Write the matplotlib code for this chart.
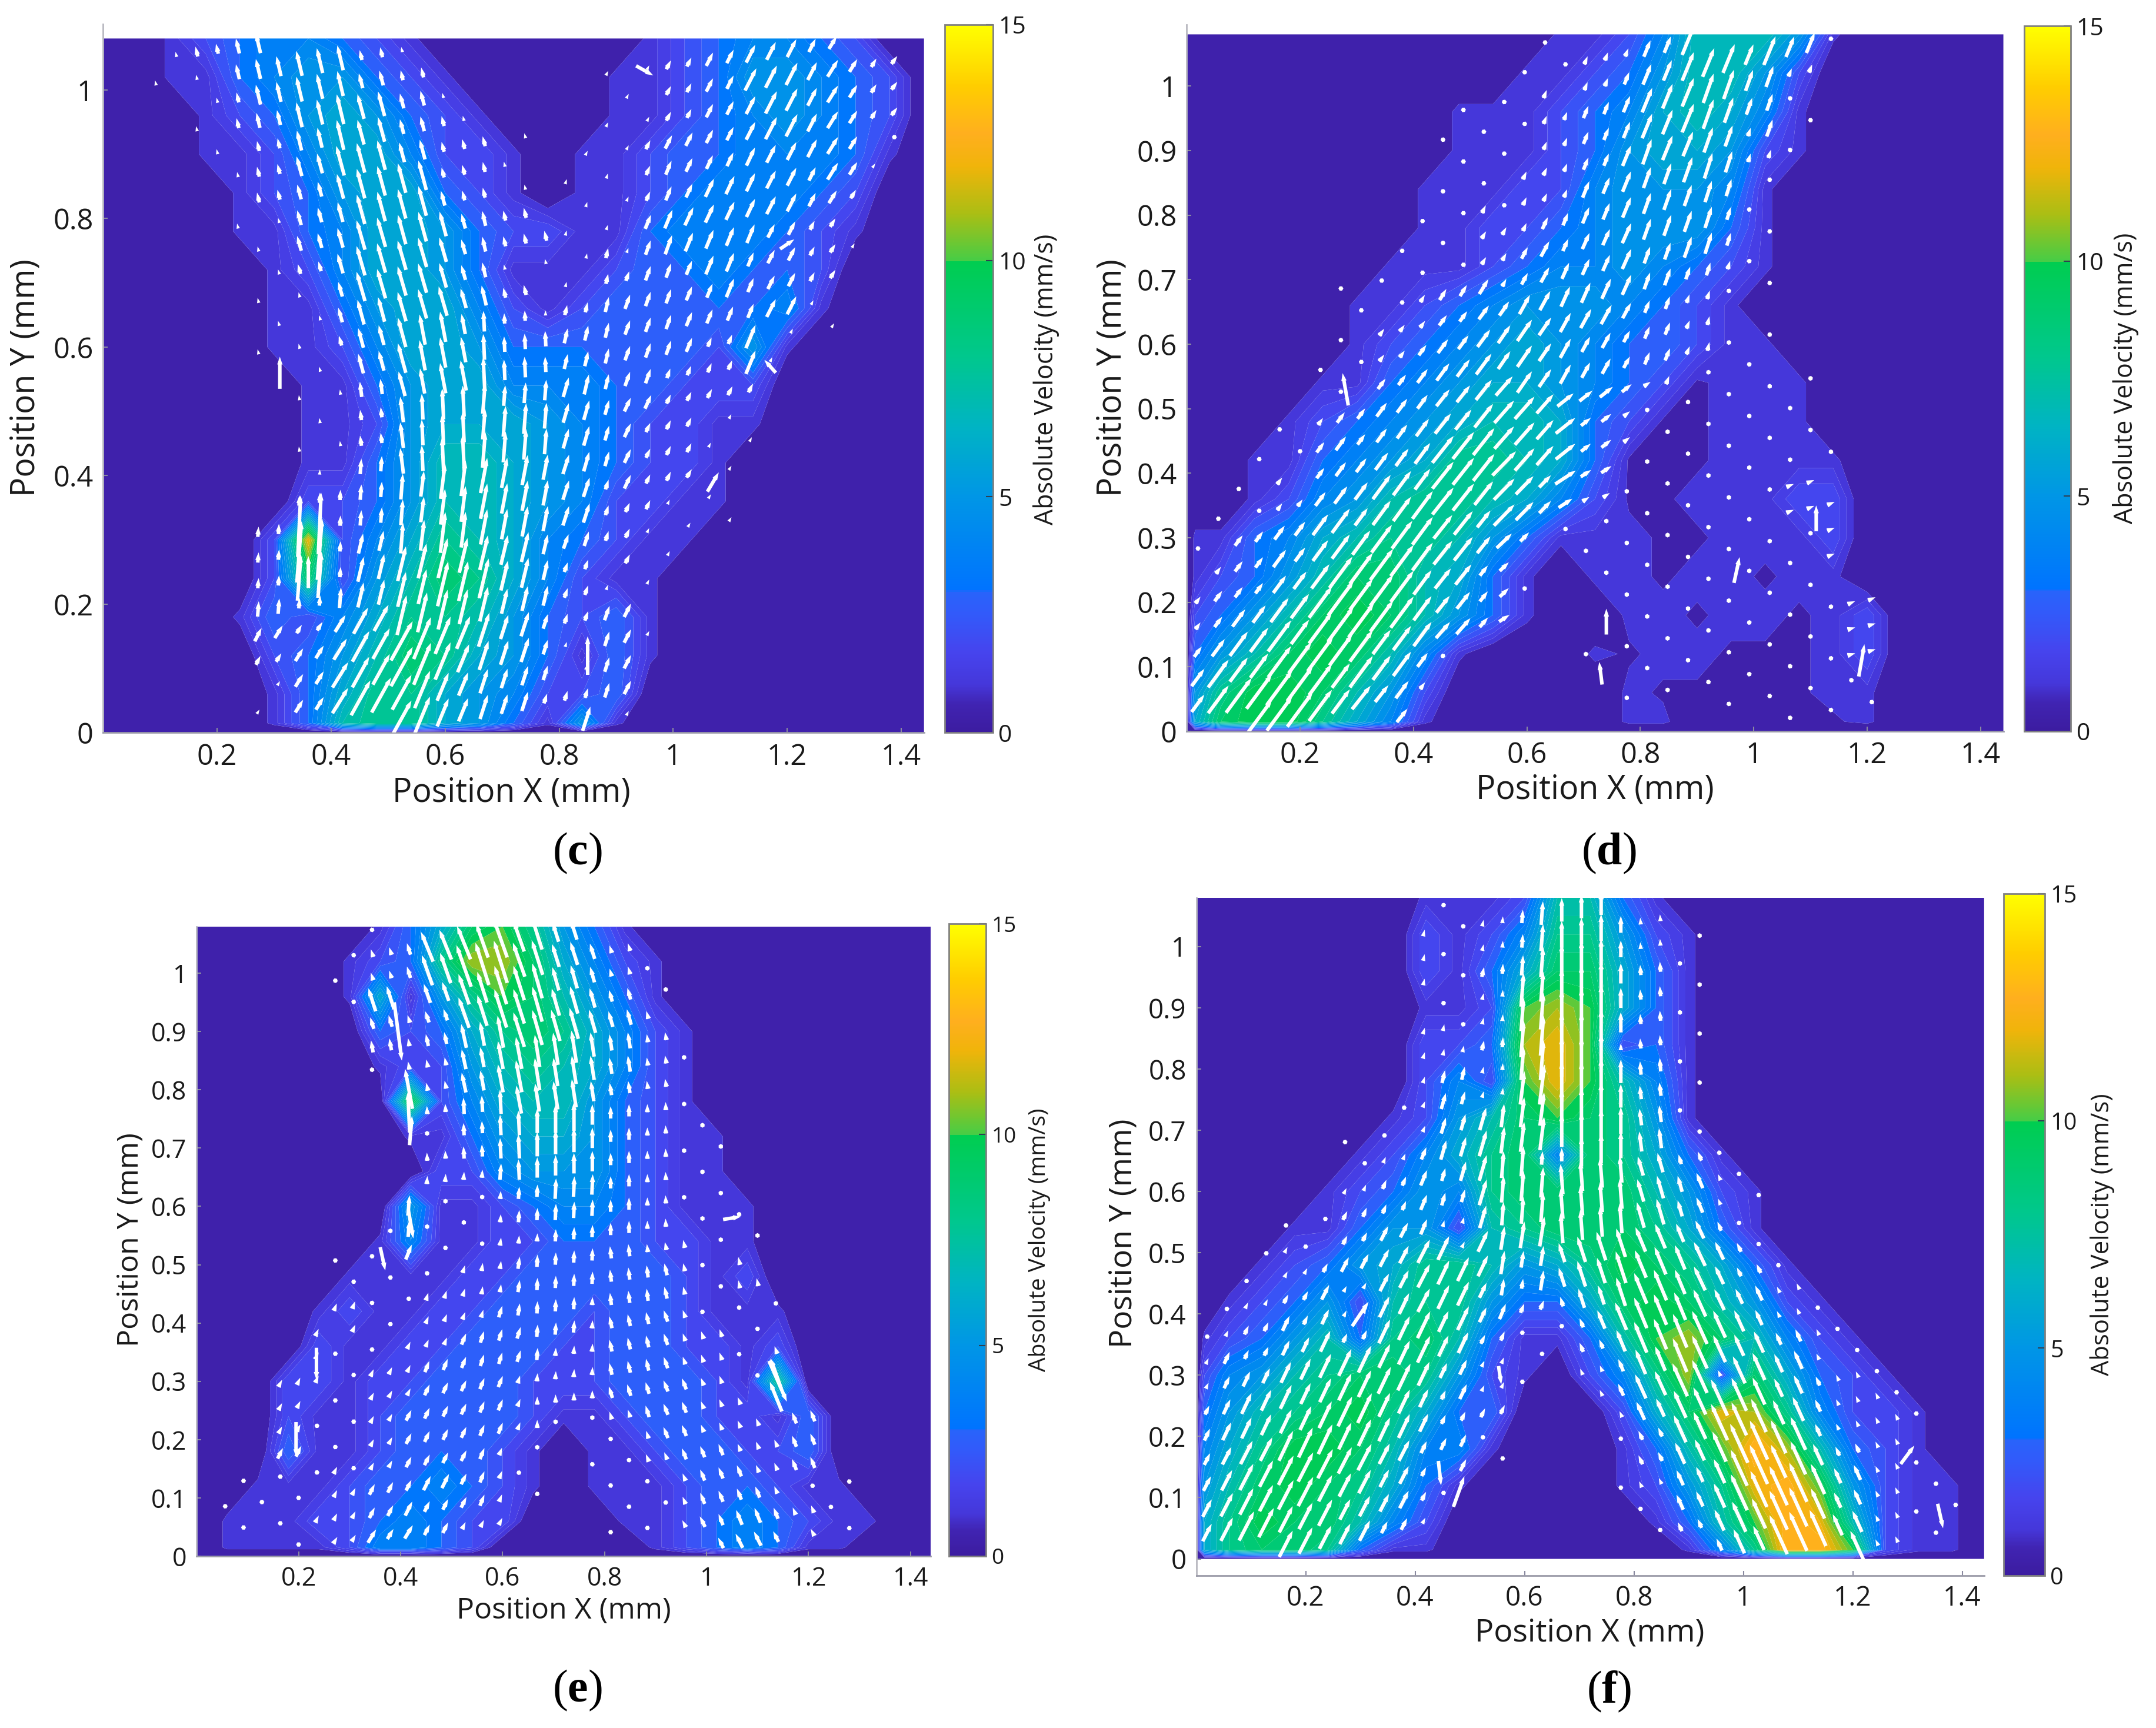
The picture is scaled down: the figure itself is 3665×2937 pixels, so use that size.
import numpy as np
import matplotlib
matplotlib.use('Agg')
import matplotlib.pyplot as plt
from matplotlib.colors import LinearSegmentedColormap, Normalize
from matplotlib.cm import ScalarMappable

plt.rcParams['font.family'] = ['Open Sans', 'DejaVu Sans']
plt.rcParams['mathtext.fontset'] = 'custom'
plt.rcParams['mathtext.rm'] = 'Liberation Serif'
plt.rcParams['mathtext.bf'] = 'Liberation Serif:bold'

# Grid of the absolute-velocity maps (mm/s); trailing zeros of a row are omitted
GRID_X = [.015,.06,.12,.18,.24,.30,.36,.42,.48,.54,.60,.66,.72,.78,.84,.90,.96,1.02,1.08,1.14,1.20,1.26,1.32,1.38,1.44]
GRID_Y = [1.08,1.02,.96,.90,.84,.78,.72,.66,.60,.54,.48,.42,.36,.30,.24,.18,.12,.06,.015]

SPEED_C = [
[0,0,1,2,3,4,4,3,2,1,0,0,0,0,0,0,1,2,3,4,4,3,2],
[0,0,1,1,3,4,5,5,3,2,1,0,0,0,0,1,1,2,3,5,5,4,3,2],
[0,0,0,1,2,3,5,6,5,3,2,1,0,0,0,1,1,2,3,4,5,4,3,2],
[0,0,0,1,1,2,4,6,6,4,2,2,1,0,1,1,2,3,3,4,4,4,3,1],
[0,0,0,0,1,2,3,5,6,6,3,2,1,0,1,1,2,3,4,4,4,3,2],
[0,0,0,0,1,1,3,4,6,6,5,3,2,2,1,1,3,4,4,4,3,2,1],
[0,0,0,0,0,1,2,4,6,6,5,3,1,1,1,2,3,3,4,3,3,2],
[0,0,0,0,0,1,1,3,5,6,6,4,2,1,2,3,3,3,3,3,4,1],
[0,0,0,0,0,1,1,2,4,6,6,5,3,3,3,3,3,3,2,5,1],
[0,0,0,0,0,0,1,1,3,5,6,6,4,4,4,3,3,2,2,2],
[0,0,0,0,0,0,1,1,2,5,6,6,6,5,4,3,2,2,1,1],
[0,0,0,0,0,0,1,1,3,5,7,7,6,5,4,3,2,2,1],
[0,0,0,0,0,0,2,2,3,5,7,7,6,5,4,2,2,1,1],
[0,0,0,0,0,2,12,2,4,6,8,7,6,4,3,2,1,1],
[0,0,0,0,0,2,9,2,5,7,9,8,6,4,2,1,1],
[0,0,0,0,1,3,2,4,6,8,8,7,5,3,2,3,1],
[0,0,0,0,0,2,3,5,7,9,8,6,5,3,1,3,1],
[0,0,0,0,0,1,3,6,8,8,6,5,4,2,2,3],
[0,0,0,0,0,1,3,7,8,8,6,5,3,1,5,1],
]
SPEED_D = [
[0,0,0,0,0,0,0,0,0,0,0,1,1,2,4,7,7,7,5,1],
[0,0,0,0,0,0,0,0,0,0,1,1,2,3,5,7,7,5,2],
[0,0,0,0,0,0,0,0,1,1,1,2,3,4,6,7,6,4,1],
[0,0,0,0,0,0,0,0,1,1,1,2,3,5,6,6,5,2,1],
[0,0,0,0,0,0,0,1,1,1,2,2,4,5,5,5,4,1],
[0,0,0,0,0,0,0,1,1,2,2,3,4,5,5,5,3,1],
[0,0,0,0,0,0,1,1,1,2,3,4,4,5,4,3,2,1],
[0,0,0,0,0,1,1,2,3,4,5,5,5,4,3,2,1],
[0,0,0,0,0,1,2,3,4,5,6,5,4,3,3,2,1,1],
[0,0,0,0,1,1,3,4,5,6,6,5,4,3,2,.7,1,1,1],
[0,0,0,1,2,3,4,5,6,7,7,6,3,2,.7,.7,1,1,1],
[0,0,1,1,3,4,5,6,8,8,7,6,3,.7,.7,.7,1,1,1,1],
[0,0,1,2,4,5,7,8,8,7,6,4,2,.7,.7,1,1,1,2,2],
[1,1,3,4,6,7,8,8,7,5,3,1,1,1,.7,.7,1,1,1,2],
[1,2,3,5,7,9,9,7,6,3,1,0,1,1,.7,1,1,.7,1,1],
[2,3,5,7,9,10,9,7,5,3,1,0,0,1,1,.7,1,1,.7,1,2],
[3,5,7,9,10,9,7,4,1,0,0,0,1,.7,1,1,.7,.7,.7,1,2],
[5,8,10,10,9,7,5,2,0,0,0,0,0,1,.7,.7,.7,.7,.7,1,1],
[6,9,10,10,8,6,4,1,0,0,0,0,0,1,1,0,.7,.7,.7,.7,1],
]
SPEED_E = [
[0,0,0,0,0,0,1,3,6,9,10,8,5,3,1],
[0,0,0,0,0,1,2,3,8,11,11,9,6,4,2,1],
[0,0,0,0,0,1,6,1,5,8,10,9,7,5,3,1],
[0,0,0,0,0,0,3,2,3,6,8,9,8,6,4,2,1],
[0,0,0,0,0,0,1,2,2,5,7,8,7,6,4,2,1],
[0,0,0,0,0,0,0,10,2,4,6,7,7,5,3,2,1],
[0,0,0,0,0,0,0,1,1,3,5,6,6,5,3,2,1,1],
[0,0,0,0,0,0,0,0,2,2,4,5,5,5,3,2,1,1],
[0,0,0,0,0,0,0,5,1,1,2,3,4,4,3,2,1,1,1],
[0,0,0,0,0,0,1,4,1,1,2,2,3,3,3,2,2,1,1],
[0,0,0,0,0,1,1,1,1,2,2,3,3,3,3,3,2,1,2],
[0,0,0,0,1,2,1,1,2,2,3,3,3,2,3,3,2,1,1,1],
[0,0,0,0,2,1,1,2,2,3,3,3,2,2,3,3,2,2,1,2],
[0,0,0,2,2,1,2,2,3,3,3,2,2,2,3,3,3,2,1,8],
[0,0,0,2,1,1,2,3,3,3,3,2,1,1,2,3,3,2,2,1,3],
[0,0,0,3,1,1,2,3,3,3,2,1,0,1,1,2,3,3,2,2,3],
[0,0,1,1,1,2,3,3,4,3,2,1,0,1,1,1,2,3,3,2,1,1],
[0,1,1,1,2,2,3,4,3,2,2,0,0,0,1,1,2,3,4,3,2,1,1],
[0,1,1,1,1,2,4,4,3,2,0,0,0,0,0,1,2,3,4,3,1,1],
]
SPEED_F = [
[0,0,0,0,0,0,0,1,1,1,2,7,7,3,1],
[0,0,0,0,0,0,0,2,1,2,4,8,8,5,2,1],
[0,0,0,0,0,0,0,2,1,3,6,9,9,6,3,1],
[0,0,0,0,0,0,0,1,1,2,10,11,10,6,3,1],
[0,0,0,0,0,0,0,2,2,3,11,12,10,2,3,1],
[0,0,0,0,0,0,0,2,4,2,10,12,10,7,4,1],
[0,0,0,0,0,0,1,2,5,7,9,10,9,8,5,1],
[0,0,0,0,0,1,2,4,6,8,9,4,9,8,6,3,1],
[0,0,0,0,1,2,3,5,4,8,9,9,9,9,7,5,2,1],
[0,0,0,1,1,3,5,5,2,7,8,9,9,9,8,6,3,1],
[0,0,1,2,3,5,6,8,8,7,5,6,8,10,9,8,6,3,1],
[0,1,2,3,5,2,7,8,8,5,3,3,6,9,10,9,7,5,2,1],
[1,2,3,5,7,3,8,9,7,3,1,1,3,7,10,11,9,7,4,2,1],
[2,4,5,7,8,9,9,8,5,2,1,0,2,4,8,11,2,9,6,3,2,1],
[3,5,7,8,9,10,8,6,3,3,0,0,0,2,6,9,12,11,8,4,2,2,1],
[4,6,8,10,10,9,7,4,4,1,0,0,0,1,3,7,10,13,11,7,3,2,1],
[5,7,9,10,9,8,6,3,1,0,0,0,0,1,2,5,8,12,13,10,5,2,1,1],
[6,8,10,9,9,7,4,2,0,0,0,0,0,0,1,3,7,10,13,12,7,2,1,1],
[6,8,9,9,8,3,1,1,0,0,0,0,0,0,0,1,4,8,13,13,10,2,1,1],
]

# Flow direction: lean from vertical in degrees (+ = towards +x), on a coarser grid
LEAN_X = [0,.12,.24,.36,.48,.60,.72,.84,.96,1.08,1.20,1.32,1.44]
LEAN_Y = [1.08,.96,.84,.72,.60,.48,.36,.24,.12,0]
LEAN_C = [
[-15,-15,-15,-15,-15,-15,-15,30,30,30,30,35,40],
[-15,-15,-15,-15,-17,-17,-17,30,30,30,30,35,40],
[-15,-15,-15,-17,-17,-17,-15,20,25,28,30,35,40],
[-15,-15,-15,-18,-18,-18,-15,15,22,25,30,35,40],
[-15,-15,-15,-18,-17,-12,-3,15,22,25,30,35,40],
[-10,-10,-10,-10,-8,-3,5,18,28,30,35,35,35],
[5,5,5,3,5,8,12,20,28,35,35,35,35],
[5,5,5,5,15,15,15,22,30,35,35,35,35],
[30,30,30,35,32,25,20,20,30,30,30,30,30],
[35,35,35,35,32,25,20,20,30,30,30,30,30],
]
LEAN_D = [
[25,25,25,25,25,25,25,25,25,25,25,25,25],
[25,25,25,25,25,25,25,25,22,22,22,22,22],
[30,30,30,30,30,28,25,22,20,20,20,20,20],
[35,35,35,35,35,32,27,22,20,20,20,20,20],
[40,40,40,40,40,38,32,25,15,15,15,15,15],
[40,40,40,40,42,45,55,60,65,65,65,65,65],
[40,40,40,40,42,48,60,65,70,70,70,70,70],
[40,40,40,40,42,50,60,60,70,70,70,70,70],
[40,40,40,40,45,60,60,70,75,75,75,75,75],
[40,40,40,42,45,60,60,70,80,80,80,80,80],
]
LEAN_E = [
[-20,-20,-20,-20,-25,-22,-20,-20,-20,-20,-20,-20,-20],
[-20,-20,-20,-20,-22,-20,-18,-18,-18,-18,-18,-18,-18],
[-12,-12,-12,-12,-14,-12,-10,-10,-12,-12,-12,-12,-12],
[-3,-3,-3,-3,-3,-3,0,0,-2,-2,-2,-2,-2],
[5,5,5,5,5,5,3,0,-3,-5,-5,-5,-5],
[25,25,25,25,20,10,3,-8,-15,-15,-15,-15,-15],
[28,28,28,28,25,20,5,-15,-22,-22,-22,-22,-22],
[30,30,30,30,28,25,0,-20,-25,-25,-25,-25,-25],
[30,30,30,30,30,25,-20,-25,-25,-25,-25,-25,-25],
[35,35,35,35,30,30,-20,-30,-30,-30,-30,-30,-30],
]
LEAN_F = [
[15,15,15,15,15,5,0,-5,-5,-5,-5,-5,-5],
[15,15,15,15,15,5,0,-5,-5,-5,-5,-5,-5],
[20,20,20,20,15,5,0,-5,-8,-8,-8,-8,-8],
[25,25,25,25,18,8,0,-8,-15,-15,-15,-15,-15],
[30,30,30,25,18,5,-5,-18,-25,-25,-25,-25,-25],
[30,30,30,30,28,10,-20,-25,-28,-28,-28,-28,-28],
[28,28,28,28,28,25,-25,-25,-27,-27,-27,-27,-27],
[28,28,28,28,28,28,-27,-27,-27,-27,-27,-27,-27],
[30,30,30,30,30,30,-27,-27,-27,-27,-27,-27,-27],
[30,30,30,30,30,30,-27,-27,-27,-27,-27,-27,-27],
]

# Isolated long vectors at the vessel walls: x, y, dx, dy
STRAY_C = [(.31,.56,0,.05),(1.17,.57,-.02,.02),(1.2,.76,.025,.015),(1.07,.39,.02,.03),(.85,.12,0,.06),(.95,1.03,.03,-.015),(.36,.25,0,.05)]
STRAY_D = [(.28,.53,-.01,.05),(1.11,.33,0,.04),(.97,.25,.01,.04),(.74,.17,0,.04),(1.19,.11,.01,.05),(.73,.09,-.005,.035)]
STRAY_E = [(.395,.9,.015,-.1),(.235,.33,0,-.055),(.195,.2,0,-.06),(.42,.57,.01,-.05),(.365,.51,.01,-.04),(1.05,.58,.035,.005),(1.14,.3,.035,-.07),(.42,.73,.005,.05)]
STRAY_F = [(.48,.11,.02,.05),(.445,.14,.005,-.04),(.555,.3,.005,-.03),(1.3,.17,.025,.03),(1.36,.07,.01,-.04),(.3,.4,.03,.04)]

CBAR_TICKS = [0, 5, 10, 15]
Y_TICKS_C = [0, .2, .4, .6, .8, 1]
Y_TICKS = [0, .1, .2, .3, .4, .5, .6, .7, .8, .9, 1]
X_TICKS = [.2, .4, .6, .8, 1, 1.2, 1.4]

STOPS = [(0,(60,28,160)),(.6,(64,36,178)),(1,(69,55,218)),(1.7,(70,68,238)),(2.5,(50,90,250)),(2.99,(40,100,250)),
         (3,(0,115,255)),(5,(0,150,230)),(6.5,(0,180,195)),(8,(0,200,140)),(9.99,(0,205,80)),
         (10,(70,205,70)),(11,(170,190,20)),(12,(240,180,10)),(12.7,(255,175,30)),(13.7,(255,205,0)),(15,(255,255,0))]
cmap = LinearSegmentedColormap.from_list('vel', [(v/15, tuple(c/255 for c in col)) for v, col in STOPS], N=512)
norm = Normalize(0, 15)
levels = np.r_[0, .8, 1.2, 1.6, np.arange(2, 15.01, .5)]

W, H = 1568., 1257.
fig = plt.figure(figsize=(36.65, 29.37), dpi=100)

def rect(l, t, r, b):
    return [l/W, 1-b/H, (r-l)/W, (b-t)/H]

def fmt(v):
    return '%g' % v

def panel(speed, lean, stray, ax_box, cb_box, yticks, slope, vec_scale, stub, letter, letter_xy,
          xl_xy, yl_xy, cl_xy, fs_label, fs_tick, fs_cb, ybottom=0.0):
    ax = fig.add_axes(rect(*ax_box))
    rows = [r + [0]*(len(GRID_X)-len(r)) for r in speed]
    S = np.array(rows, float)
    Sp = np.vstack([S, np.zeros(S.shape[1])])
    Sp = np.hstack([np.zeros((Sp.shape[0], 1)), Sp])
    X = np.r_[0, GRID_X]
    Y = np.r_[GRID_Y, 0]
    ax.contourf(X, Y, Sp, levels=levels, cmap=cmap, norm=norm, extend='neither', antialiased=True)
    # vectors on the measurement lattice; the wall fringe has only every other vector
    px, py, u, v = [], [], [], []
    gx, gy = np.array(GRID_X), np.array(GRID_Y)
    lx, ly = np.array(LEAN_X), np.array(LEAN_Y)
    L = np.array(lean, float)
    for j, y0 in enumerate(np.arange(-.2, 1.1, .04)):
        for i, x0 in enumerate(np.arange(.02, 1.44, .036)):
            y = y0 + slope*x0
            if y < .02 or y > 1.075:
                continue
            s = S[np.argmin(abs(gy-y)), np.argmin(abs(gx-x0))]
            if s <= 0 or (s <= 1 and (i+j) % 2):
                continue
            th = np.radians(L[np.argmin(abs(ly-y)), np.argmin(abs(lx-x0))])
            n = vec_scale*s
            px.append(x0); py.append(y); u.append(n*np.sin(th)); v.append(n*np.cos(th))
    for x, y, dx, dy in stray:
        px.append(x); py.append(y); u.append(dx); v.append(dy)
    ax.quiver(px, py, u, v, color='white', angles='xy', scale_units='xy', scale=1, units='dots',
              width=6, headwidth=1.5, headlength=2.2, headaxislength=2.2, minlength=1.4, pivot='mid', zorder=5)
    ax.set_xlim(0, 1.44)
    ax.set_ylim(ybottom, 1.08)
    ax.set_xticks(X_TICKS, [fmt(t) for t in X_TICKS])
    ax.set_yticks(yticks, [fmt(t) for t in yticks])
    ax.tick_params(axis='both', direction='in', length=6, width=1.5, color='#8a8aa0',
                   labelsize=fs_tick, pad=12, labelcolor='#1a1a1a')
    for name, sp in ax.spines.items():
        sp.set_color('#9a9aa8')
        sp.set_linewidth(2)
    ax.spines['right'].set_visible(False)
    ax.spines['top'].set_visible(False)
    ax.spines['left'].set_color('#b8b8c0')
    ax.set_facecolor('white')
    if stub:
        ax.plot([0, 0], [1.08, 1.08+stub], color='#b8b8c0', lw=2, clip_on=False)
        ax.set_ylim(ybottom, 1.08)
    # colorbar
    cax = fig.add_axes(rect(*cb_box))
    cb = fig.colorbar(ScalarMappable(norm=norm, cmap=cmap), cax=cax, ticks=CBAR_TICKS)
    cb.ax.tick_params(direction='in', length=9, width=1.5, color='#304050', labelsize=fs_cb*.95, pad=7, labelcolor='#1a1a1a')
    cb.outline.set_edgecolor('#808080')
    cb.outline.set_linewidth(2)
    fig.text(xl_xy[0]/W, 1-xl_xy[1]/H, 'Position X (mm)', ha='center', va='center', fontsize=fs_label, color='#1a1a1a')
    fig.text(yl_xy[0]/W, 1-yl_xy[1]/H, 'Position Y (mm)', ha='center', va='center', rotation=90, fontsize=fs_label, color='#1a1a1a')
    fig.text(cl_xy[0]/W, 1-cl_xy[1]/H, 'Absolute Velocity (mm/s)', ha='center', va='center', rotation=90, fontsize=fs_cb, color='#1a1a1a')
    fig.text(letter_xy[0]/W, 1-letter_xy[1]/H, r'$\mathrm{(}\mathbf{%s}\mathrm{)}$' % letter, ha='center', va='center', fontsize=56, color='black')

panel(SPEED_C, LEAN_C, STRAY_C, (75,28,672,533), (687,18,722,533), Y_TICKS_C, .12, .008, .022, 'c', (420,620),
      (372,577), (19,275), (761,276), 40, 35, 31)
panel(SPEED_D, LEAN_D, STRAY_D, (863,25,1457,532), (1472,19,1506,532), Y_TICKS, .17, .007, .015, 'd', (1170,620),
      (1160,575), (809,275), (1546,275), 40, 35, 31)
panel(SPEED_E, LEAN_E, STRAY_E, (143,674,677,1132), (690,672,717,1132), Y_TICKS, .1, .007, 0, 'e', (420,1229),
      (410,1172), (95,902), (756,902), 36, 31, 28)
panel(SPEED_F, LEAN_F, STRAY_F, (870,653,1443,1146), (1457,650,1487,1146), Y_TICKS, .15, .0055, 0, 'f', (1170,1230),
      (1156,1188), (817,897), (1529,898), 38.5, 33, 30, ybottom=-.027)

fig.savefig('out.png', dpi=100, facecolor='white')
